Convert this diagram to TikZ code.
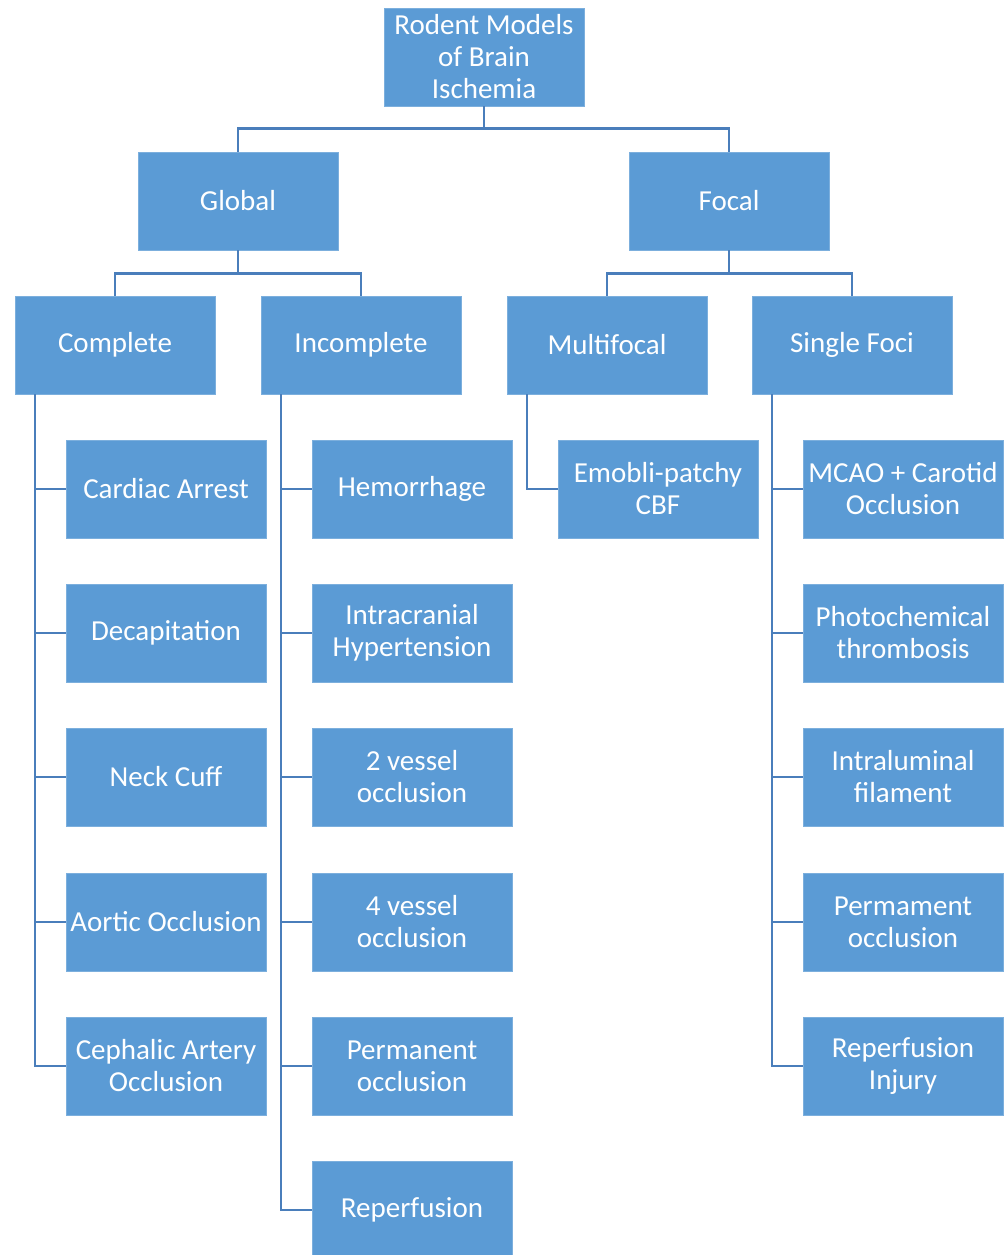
\documentclass[tikz,border=0pt]{standalone}
\usepackage{fontspec}
\setmainfont{Carlito}
\definecolor{boxfill}{HTML}{5B9BD5}
\definecolor{linec}{HTML}{4A7EBB}
\begin{document}
\begin{tikzpicture}[x=1pt,y=-1pt,
  box/.style={rectangle,fill=boxfill,draw=boxfill!80!white,line width=0.6pt,minimum width=200pt,minimum height=98pt,inner sep=0pt,text=white,align=center,font=\fontsize{29}{32}\selectfont},
  conn/.style={draw=linec,line width=2.4pt}]
\useasboundingbox (0,0) rectangle (1005,1255);
\clip (0,0) rectangle (1005,1255);
% nodes
\node[box] (root) at (484,57) {Rodent Models\\of Brain\\Ischemia};
\node[box] (global) at (238,201) {Global};
\node[box] (focal) at (729,201) {Focal};
\node[box] (complete) at (115,345) {Complete};
\node[box] (incomplete) at (361,345) {Incomplete};
\node[box] (multifocal) at (607,345) {Multifocal};
\node[box] (single) at (852,345) {Single Foci};
% complete children
\node[box] (c1) at (166,489) {Cardiac Arrest};
\node[box] (c2) at (166,633) {Decapitation};
\node[box] (c3) at (166,777) {Neck Cuff};
\node[box] (c4) at (166,922) {Aortic Occlusion};
\node[box] (c5) at (166,1066) {Cephalic Artery\\Occlusion};
% incomplete children
\node[box] (i1) at (412,489) {Hemorrhage};
\node[box] (i2) at (412,633) {Intracranial\\Hypertension};
\node[box] (i3) at (412,777) {2 vessel\\occlusion};
\node[box] (i4) at (412,922) {4 vessel\\occlusion};
\node[box] (i5) at (412,1066) {Permanent\\occlusion};
\node[box] (i6) at (412,1210) {Reperfusion};
% multifocal child
\node[box] (m1) at (658,489) {Emobli-patchy\\CBF};
% single foci children
\node[box] (s1) at (903,489) {MCAO + Carotid\\Occlusion};
\node[box] (s2) at (903,633) {Photochemical\\thrombosis};
\node[box] (s3) at (903,777) {Intraluminal\\filament};
\node[box] (s4) at (903,922) {Permament\\occlusion};
\node[box] (s5) at (903,1066) {Reperfusion\\Injury};
% tree connectors
\draw[conn] (root.south) -- ++(0,22) -| (global.north);
\draw[conn] (root.south) -- ++(0,22) -| (focal.north);
\draw[conn] (global.south) -- ++(0,23) -| (complete.north);
\draw[conn] (global.south) -- ++(0,23) -| (incomplete.north);
\draw[conn] (focal.south) -- ++(0,23) -| (multifocal.north);
\draw[conn] (focal.south) -- ++(0,23) -| (single.north);
% side connectors
\foreach \c in {c1,c2,c3,c4,c5}
  \draw[conn] ([xshift=20pt]complete.south west) |- (\c.west);
\foreach \c in {i1,i2,i3,i4,i5,i6}
  \draw[conn] ([xshift=20pt]incomplete.south west) |- (\c.west);
\draw[conn] ([xshift=20pt]multifocal.south west) |- (m1.west);
\foreach \c in {s1,s2,s3,s4,s5}
  \draw[conn] ([xshift=20pt]single.south west) |- (\c.west);
\end{tikzpicture}
\end{document}
